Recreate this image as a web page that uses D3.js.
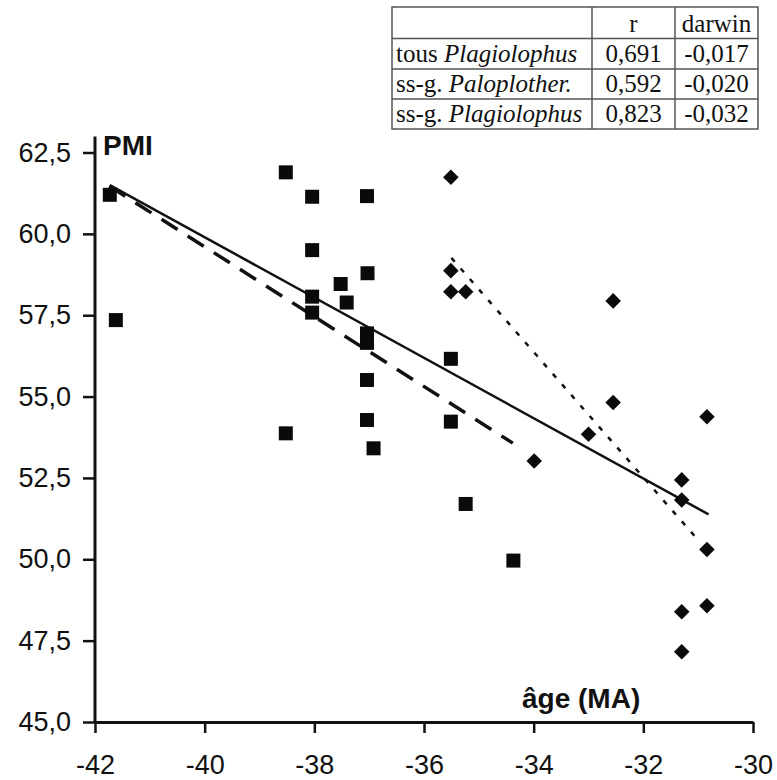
<!DOCTYPE html>
<html lang="fr">
	<head>
		<meta charset="utf-8">
		<title>PMI / âge</title>
		<script type="text/javascript" src="https://d3js.org/d3.v7.min.js"></script>
		<style type="text/css">
			body {
				margin: 0;
				background: white;
			}
			.tick text {
				font-family: 'Liberation Sans', Arial, sans-serif;
				font-size: 27px;
				fill: #111;
			}
			.titre {
				font-family: 'Liberation Sans', Arial, sans-serif;
				font-weight: bold;
				font-size: 28px;
				fill: #111;
			}
			.tab text {
				font-family: 'Liberation Serif', 'Times New Roman', serif;
				font-size: 25px;
				fill: #111;
			}
		</style>
	</head>
	<body>
		<div id="chart"></div>
		<script type="text/javascript">

		//Data : ss-g. Paloplotherium (carres)
		var squareAge = [-41.73, -41.62, -38.52, -38.04, -37.04, -38.04, -37.03, -37.52, -37.41, -38.04, -38.04,
			-37.04, -37.04, -37.04, -35.51, -37.04, -35.51, -38.52, -36.92, -35.24, -34.37];
		var squarePMI = [61.2, 57.35, 61.89, 61.14, 61.16, 59.5, 58.79, 58.46, 57.89, 58.07, 57.58,
			56.94, 56.65, 55.51, 56.16, 54.28, 54.23, 53.87, 53.41, 51.7, 49.96];

		//Data : ss-g. Plagiolophus (losanges)
		var diamondAge = [-35.51, -35.51, -35.51, -35.24, -32.55, -32.55, -30.84, -33.0, -33.99, -31.3,
			-31.3, -30.84, -30.84, -31.3, -31.3];
		var diamondPMI = [61.74, 58.87, 58.22, 58.22, 57.94, 54.82, 54.38, 53.84, 53.02, 52.44,
			51.82, 50.3, 48.57, 48.39, 47.16];

		//Droites de regression (extremites)
		var lineAll = [[-41.73, 61.5], [-30.81, 51.38]];
		var linePalo = [[-41.74, 61.47], [-34.38, 53.57]];
		var linePlagio = [[-35.5, 59.26], [-31.0, 50.59]];

		//Axes
		var xTicks = [-42, -40, -38, -36, -34, -32, -30];
		var yTicks = [45, 47.5, 50, 52.5, 55, 57.5, 60, 62.5];

		//Tableau
		var tabHeader = ["", "r", "darwin"];
		var tabPrefix = ["tous ", "ss-g. ", "ss-g. "];
		var tabTaxon = ["Plagiolophus", "Paloplother.", "Plagiolophus"];
		var tabR = ["0,691", "0,592", "0,823"];
		var tabDarwin = ["-0,017", "-0,020", "-0,032"];

		var w = 777;
		var h = 780;

		var svg = d3.select("#chart")
			.append("svg")
			.attr("width", w)
			.attr("height", h);

		var x = d3.scaleLinear()
			.domain([-42, -30])
			.range([95, 753]);

		var y = d3.scaleLinear()
			.domain([45, 62.5])
			.range([722, 152.5]);

		//virgule decimale, tiret simple
		var fr = function(d) { return d.toFixed(1).replace(".", ","); };

		//y axis (line goes a bit above the last tick)
		var yAxis = svg.append("g")
			.attr("transform", "translate(" + x(-42) + ",0)")
			.call(d3.axisLeft(y)
				.tickValues(yTicks)
				.tickFormat(fr)
				.tickSize(12)
				.tickSizeOuter(0)
				.tickPadding(12));
		yAxis.select(".domain").remove();
		yAxis.append("line")
			.attr("x1", 0).attr("x2", 0)
			.attr("y1", y(45)).attr("y2", y(62.5) - 16)
			.attr("stroke", "#111")
			.attr("stroke-width", 3);
		yAxis.selectAll(".tick line").attr("stroke", "#111").attr("stroke-width", 2.5);

		var xAxis = svg.append("g")
			.attr("transform", "translate(0," + y(45) + ")")
			.call(d3.axisBottom(x)
				.tickValues(xTicks)
				.tickFormat(function(d) { return String(d); })
				.tickSize(11)
				.tickSizeOuter(0)
				.tickPadding(22));
		xAxis.select(".domain").attr("stroke", "#111").attr("stroke-width", 3);
		xAxis.selectAll(".tick line").attr("stroke", "#111").attr("stroke-width", 2.5);

		//titres
		svg.append("text")
			.attr("class", "titre")
			.attr("x", x(-42) + 8)
			.attr("y", 155)
			.text("PMI");

		svg.append("text")
			.attr("class", "titre")
			.attr("x", 522)
			.attr("y", 708)
			.text("âge (MA)");

		//droites
		var line = d3.line()
			.x(function(d) { return x(d[0]); })
			.y(function(d) { return y(d[1]); });

		svg.append("path")
			.datum(lineAll)
			.attr("d", line)
			.attr("fill", "none")
			.attr("stroke", "#111")
			.attr("stroke-width", 2.5);

		svg.append("path")
			.datum(linePalo)
			.attr("d", line)
			.attr("fill", "none")
			.attr("stroke", "#111")
			.attr("stroke-width", 3.5)
			.attr("stroke-dasharray", "19,12");

		svg.append("path")
			.datum(linePlagio)
			.attr("d", line)
			.attr("fill", "none")
			.attr("stroke", "#111")
			.attr("stroke-width", 2.5)
			.attr("stroke-dasharray", "5,9");

		//carres
		svg.selectAll("path.carre")
			.data(d3.range(squareAge.length))
			.enter()
			.append("path")
			.attr("class", "carre")
			.attr("d", d3.symbol().type(d3.symbolSquare).size(14 * 14))
			.attr("transform", function(i) {
				return "translate(" + x(squareAge[i]) + "," + y(squarePMI[i]) + ")";
			})
			.attr("fill", "#0a0a0a");

		//losanges
		svg.selectAll("path.losange")
			.data(d3.range(diamondAge.length))
			.enter()
			.append("path")
			.attr("class", "losange")
			.attr("d", d3.symbol().type(d3.symbolSquare).size(11 * 11))
			.attr("transform", function(i) {
				return "translate(" + x(diamondAge[i]) + "," + y(diamondPMI[i]) + ") rotate(45)";
			})
			.attr("fill", "#0a0a0a");

		//tableau
		var colX = [392, 592, 675, 758];
		var rowY = [7, 38.5, 69, 99, 129];

		var tab = svg.append("g").attr("class", "tab");

		tab.append("rect")
			.attr("x", colX[0])
			.attr("y", rowY[0])
			.attr("width", colX[3] - colX[0])
			.attr("height", rowY[4] - rowY[0])
			.attr("fill", "white")
			.attr("stroke", "#555")
			.attr("stroke-width", 1.5);

		tab.selectAll("line.row")
			.data(rowY.slice(1, 4))
			.enter()
			.append("line")
			.attr("class", "row")
			.attr("x1", colX[0]).attr("x2", colX[3])
			.attr("y1", function(d) { return d; })
			.attr("y2", function(d) { return d; })
			.attr("stroke", "#555")
			.attr("stroke-width", 1.5);

		tab.selectAll("line.col")
			.data(colX.slice(1, 3))
			.enter()
			.append("line")
			.attr("class", "col")
			.attr("y1", rowY[0]).attr("y2", rowY[4])
			.attr("x1", function(d) { return d; })
			.attr("x2", function(d) { return d; })
			.attr("stroke", "#555")
			.attr("stroke-width", 1.5);

		//entete
		tab.selectAll("text.head")
			.data([1, 2])
			.enter()
			.append("text")
			.attr("class", "head")
			.attr("x", function(j) { return (colX[j] + colX[j + 1]) / 2; })
			.attr("y", 31.5)
			.attr("text-anchor", "middle")
			.text(function(j) { return tabHeader[j]; });

		var rowBase = [62, 92, 122];

		for (var i = 0; i < tabTaxon.length; i++) {
			var t = tab.append("text")
				.attr("x", 396)
				.attr("y", rowBase[i]);
			t.append("tspan").text(tabPrefix[i]);
			t.append("tspan").attr("font-style", "italic").text(tabTaxon[i]);

			tab.append("text")
				.attr("x", (colX[1] + colX[2]) / 2)
				.attr("y", rowBase[i])
				.attr("text-anchor", "middle")
				.text(tabR[i]);

			tab.append("text")
				.attr("x", (colX[2] + colX[3]) / 2)
				.attr("y", rowBase[i])
				.attr("text-anchor", "middle")
				.text(tabDarwin[i]);
		}

		</script>
	</body>
</html>
